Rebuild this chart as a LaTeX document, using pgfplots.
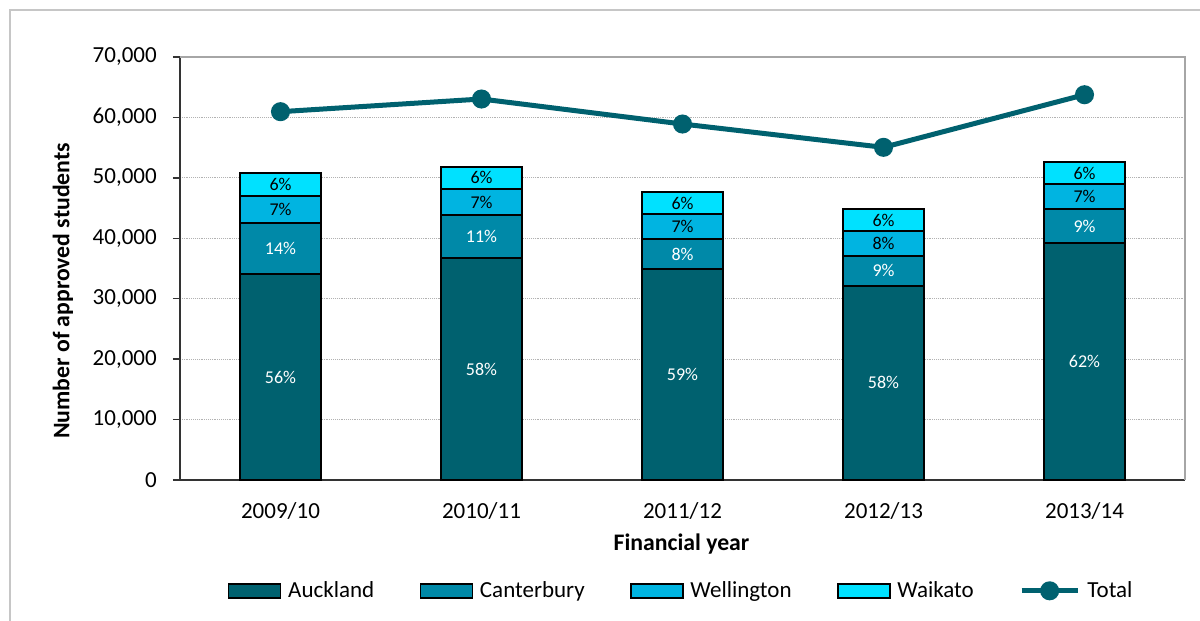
\documentclass[border=0pt]{standalone}
\usepackage{pgfplots}
\usepackage{pgfplotstable}
\pgfplotsset{compat=1.18}
\usepackage{fontspec}
\setmainfont{Carlito}
\definecolor{cAuck}{HTML}{00616F}
\definecolor{cCant}{HTML}{0089A8}
\definecolor{cWell}{HTML}{00B4E1}
\definecolor{cWaik}{HTML}{00E1FF}
\definecolor{cTot}{HTML}{00616F}

\pgfplotstableread{
x A C W K
0 34040 8540 4370 3850
1 36690 7110 4355 3695
2 34915 4965 4090 3740
3 32150 4970 4130 3540
4 39270 5520 4140 3740
}\bars
\pgfplotstableread{
x T
0 60950
1 63050
2 58910
3 55050
4 63760
}\total

\pgfplotsset{
  common/.style={
    at={(135pt,105.75pt)}, anchor=south west,
    scale only axis, width=753.75pt, height=317.25pt,
    xmin=-0.5, xmax=4.5, ymin=0, ymax=70000,
  },
  barleg/.style={legend image code/.code={\draw[##1, line width=1.2pt] (0pt,-5.25pt) rectangle (39pt,5.25pt); \path (42.5pt,0pt);}},
  totleg/.style={legend image code/.code={\draw[##1,mark repeat=2,mark phase=2] plot coordinates {(0pt,0pt) (21pt,0pt) (42pt,0pt)}; \path (45.5pt,0pt);}},
  pctlab/.style={draw=none, mark=none, nodes near coords, point meta=explicit symbolic,
     every node near coord/.append style={anchor=center, font=\fontsize{13.5pt}{16pt}\selectfont, text=#1}},
}

\begin{document}
\begin{tikzpicture}
\useasboundingbox (0,0) rectangle (900pt,465.75pt);
\fill[white] (0,0) rectangle (900pt,465.75pt);
\draw[gray!45, line width=1.5pt] (7.5pt,-2pt) -- (7.5pt,458.25pt) -- (902pt,458.25pt);

\begin{axis}[common,
  ybar stacked, bar width=0.4,
  axis x line*=bottom, axis y line*=left,
  axis line style={black!80, line width=1.2pt},
  xtick={0,1,2,3,4},
  xticklabels={2009/10,2010/11,2011/12,2012/13,2013/14},
  major x tick style={draw=none},
  ytick={0,10000,...,70000},
  scaled y ticks=false,
  /pgf/number format/1000 sep={,},
  /pgf/number format/assume math mode=true,
  ticklabel style={font=\fontsize{17.25pt}{20pt}\selectfont},
  yticklabel style={anchor=east, inner sep=0pt, xshift=-12pt},
  xticklabel style={anchor=base, yshift=-24pt},
  tick align=outside, major tick length=5.25pt,
  ytick style={black!80, line width=1pt},
  ymajorgrids, grid style={densely dotted, gray!60, line width=0.75pt},
  xlabel={\bfseries Financial year},
  ylabel={\bfseries Number of approved students},
  label style={font=\fontsize{17.8pt}{20pt}\selectfont},
  xlabel style={at={(axis description cs:0.499,-0.151)}, anchor=center},
  ylabel style={at={(axis description cs:-0.1164,0.447)}, anchor=center},
  clip=false,
]
\addplot[fill=cAuck, draw=black, line width=1.4pt] table[x=x,y=A]{\bars};
\addplot[fill=cCant, draw=black, line width=1.4pt] table[x=x,y=C]{\bars};
\addplot[fill=cWell, draw=black, line width=1.4pt] table[x=x,y=W]{\bars};
\addplot[fill=cWaik, draw=black, line width=1.4pt] table[x=x,y=K]{\bars};
\draw[gray!70, line width=1.5pt] (rel axis cs:0,1) -- (rel axis cs:1,1) -- (rel axis cs:1,0);
\end{axis}

\begin{axis}[common, hide axis, clip=false,
  legend columns=5,
  legend style={draw=none, fill=none, at={(0.499,-0.262)}, anchor=center,
    font=\fontsize{17.25pt}{20pt}\selectfont,
    /tikz/every even column/.append style={column sep=32pt}},
  legend cell align=left,
]
\addlegendimage{barleg, fill=cAuck, draw=black}
\addlegendentry{Auckland}
\addlegendimage{barleg, fill=cCant, draw=black}
\addlegendentry{Canterbury}
\addlegendimage{barleg, fill=cWell, draw=black}
\addlegendentry{Wellington}
\addlegendimage{barleg, fill=cWaik, draw=black}
\addlegendentry{Waikato}
\addplot[cTot, line width=3.75pt, mark=*, mark size=5.25pt, totleg]
  table[x=x,y=T]{\total};
\addlegendentry{Total}

\addplot[pctlab=white, forget plot] coordinates {(0,17020)[56\%] (1,18345)[58\%] (2,17457.5)[59\%] (3,16075)[58\%] (4,19635)[62\%]};
\addplot[pctlab=white, forget plot] coordinates {(0,38310)[14\%] (1,40245)[11\%] (2,37397.5)[8\%] (3,34635)[9\%] (4,42030)[9\%]};
\addplot[pctlab=black, forget plot] coordinates {(0,44765)[7\%] (1,45977.5)[7\%] (2,41925)[7\%] (3,39185)[8\%] (4,46860)[7\%]};
\addplot[pctlab=black, forget plot] coordinates {(0,48875)[6\%] (1,50002.5)[6\%] (2,45840)[6\%] (3,43020)[6\%] (4,50800)[6\%]};
\end{axis}
\end{tikzpicture}
\end{document}
